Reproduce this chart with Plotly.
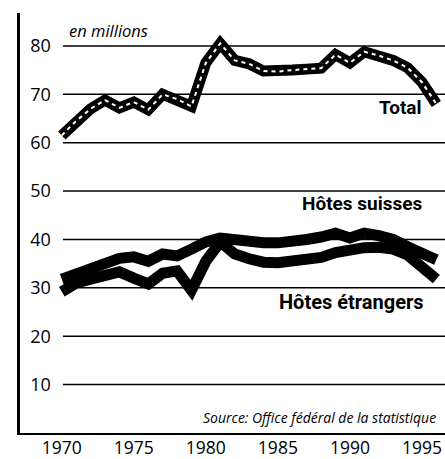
import plotly.graph_objects as go

years = list(range(1970, 1997))
total = [61.5, 64.5, 67.0, 68.8, 67.2, 68.4, 66.8, 70.0, 69.0, 67.5,
         76.5, 80.5, 77.0, 76.3, 74.8, 74.7, 75.0, 75.2, 75.4, 78.2,
         76.5, 78.8, 78.0, 77.0, 75.5, 72.5, 68.0]
suisses = [31.8, 32.8, 33.8, 35.2, 36.1, 36.4, 35.5, 37.0, 36.6, 38.0,
           39.5, 40.3, 39.8, 39.5, 39.3, 39.3, 39.5, 40.0, 40.5, 41.3,
           40.3, 41.3, 40.8, 40.0, 38.5, 37.3, 35.8]
etrangers = [29.2, 31.0, 31.8, 32.8, 33.3, 32.0, 30.8, 33.0, 33.5, 29.5,
             35.5, 39.5, 37.0, 36.0, 35.3, 35.2, 35.4, 35.7, 36.3, 37.3,
             38.0, 38.3, 38.4, 38.0, 36.8, 34.5, 31.8]
y_ticks = [10, 20, 30, 40, 50, 60, 70, 80]
x_ticks = [1970, 1975, 1980, 1985, 1990, 1995]

BASE_FONT = "Open Sans"
LABEL_FONT = "Roboto"

fig = go.Figure()
for vals in (suisses, etrangers):
    fig.add_trace(go.Scatter(x=years, y=vals, mode="lines",
                             line=dict(color="black", width=11),
                             hoverinfo="skip", showlegend=False))
fig.add_trace(go.Scatter(x=years, y=total, mode="lines",
                         line=dict(color="black", width=11),
                         hoverinfo="skip", showlegend=False))
fig.add_trace(go.Scatter(x=years, y=total, mode="lines",
                         line=dict(color="white", width=2, dash="4px,4px"),
                         hoverinfo="skip", showlegend=False))

shapes = []
for v in y_ticks:
    shapes.append(dict(type="line", xref="paper", yref="y", x0=0.101, x1=1,
                       y0=v, y1=v, line=dict(color="black", width=1.5),
                       layer="below"))
fig.update_layout(shapes=shapes)

fig.update_layout(
    width=445, height=459,
    margin=dict(l=20, r=0, t=13, b=26, autoexpand=False),
    paper_bgcolor="white", plot_bgcolor="white",
    font=dict(family=BASE_FONT, color="black"),
    xaxis=dict(range=[1967.1, 1996.6], tickvals=x_ticks,
               ticktext=[str(t) for t in x_ticks],
               showgrid=False, zeroline=False, showline=True,
               linecolor="black", linewidth=1.5, ticks="",
               automargin=False, ticklabelstandoff=-2,
               tickfont=dict(size=17.5, family=BASE_FONT, color="black")),
    yaxis=dict(range=[0, 86.8], tickvals=y_ticks,
               ticktext=[str(t) for t in y_ticks],
               showgrid=False, zeroline=False, showline=True,
               linecolor="black", linewidth=2.5, ticks="",
               automargin=False,
               ticklabelposition="inside", ticklabelstandoff=11,
               tickfont=dict(size=18, family=BASE_FONT, color="black")),
)

annotations = [
    dict(text="<i>en millions</i>", xref="paper", yref="paper",
         x=0.111, y=0.9595, xanchor="left", yanchor="middle",
         showarrow=False, font=dict(size=16.5, family=BASE_FONT)),
    dict(text="<i>Source: Office fédéral de la statistique</i>", xref="paper",
         yref="paper", x=0.983, y=0.038, xanchor="right", yanchor="middle",
         showarrow=False, font=dict(size=14, family=BASE_FONT)),
    dict(text="<b>Total</b>", xref="paper", yref="paper", x=0.896, y=0.774,
         xanchor="center", yanchor="middle", showarrow=False,
         font=dict(size=19, family=LABEL_FONT)),
    dict(text="<b>Hôtes suisses</b>", xref="paper", yref="paper", x=0.806,
         y=0.5476, xanchor="center", yanchor="middle", showarrow=False,
         font=dict(size=19, family=LABEL_FONT)),
    dict(text="<b>Hôtes étrangers</b>", xref="paper", yref="paper", x=0.780,
         y=0.312, xanchor="center", yanchor="middle", showarrow=False,
         font=dict(size=20, family=LABEL_FONT)),
]
fig.update_layout(annotations=annotations)

fig.write_html("out.html", config={"displayModeBar": False},
               post_script="document.body.style.margin='0';document.body.style.overflow='hidden';")
